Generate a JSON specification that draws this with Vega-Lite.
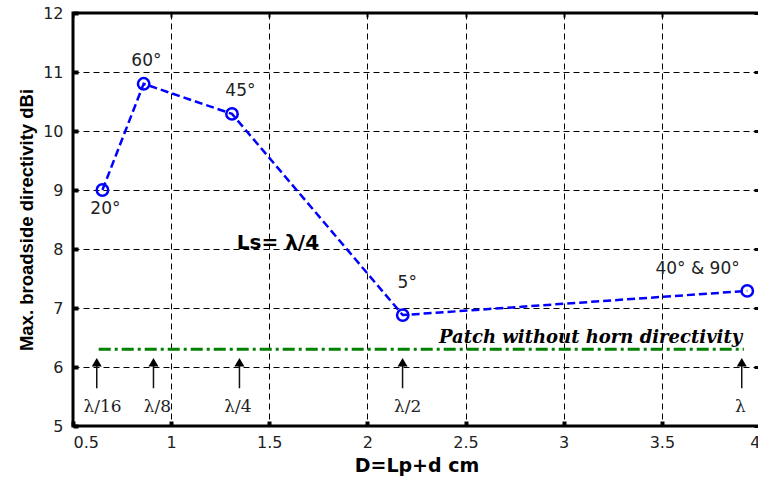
{
  "$schema": "https://vega.github.io/schema/vega-lite/v6.json",
  "autosize": "none",
  "padding": {"left": 73, "top": 13, "right": 0, "bottom": 52},
  "width": 687,
  "height": 413,
  "background": "white",
  "config": {
    "view": {"stroke": "black", "strokeWidth": 3},
    "axis": {"domain": false}
  },
  "resolve": {"axis": {"x": "independent", "y": "independent"}},
  "layer": [
    {
      "data": {"values": [
        {"D": 0.65, "dir": 9.0},
        {"D": 0.86, "dir": 10.8},
        {"D": 1.31, "dir": 10.29},
        {"D": 2.18, "dir": 6.88},
        {"D": 3.935, "dir": 7.29}
      ]},
      "mark": {"type": "line", "color": "#0000ff", "strokeWidth": 2.5, "strokeDash": [8, 4]},
      "encoding": {
        "x": {"field": "D", "type": "quantitative",
          "scale": {"domain": [0.5, 4], "nice": false, "zero": false},
          "axis": {"orient": "bottom", "values": [0.5, 1, 1.5, 2, 2.5, 3, 3.5, 4], "format": "~g",
            "title": "D=Lp+d cm", "titleFont": "DejaVu Sans", "titleFontWeight": "bold", "titleFontSize": 19, "titleColor": "black", "titlePadding": 6,
            "labelFont": "DejaVu Sans", "labelFontSize": 16, "labelColor": "#222", "labelPadding": 13,
            "ticks": true, "tickSize": -5, "tickWidth": 4, "tickColor": "black",
            "grid": true, "gridColor": "black", "gridDash": [6, 4], "gridWidth": 1, "gridOpacity": 1}},
        "y": {"field": "dir", "type": "quantitative",
          "scale": {"domain": [5, 12], "nice": false, "zero": false},
          "axis": {"orient": "left", "values": [5, 6, 7, 8, 9, 10, 11, 12],
            "title": "Max. broadside directivity dBi", "titleFont": "Liberation Sans", "titleFontWeight": "bold", "titleFontSize": 18.5, "titleColor": "black", "titlePadding": 6,
            "labelFont": "DejaVu Sans", "labelFontSize": 16, "labelColor": "#222", "labelPadding": 15,
            "ticks": true, "tickSize": -5, "tickWidth": 4, "tickColor": "black",
            "grid": true, "gridColor": "black", "gridDash": [6, 4], "gridWidth": 1, "gridOpacity": 1}}
      }
    },
    {
      "data": {"values": [{"x1": 0.631, "x2": 3.918, "y": 6.3}]},
      "mark": {"type": "rule", "color": "#008000", "strokeWidth": 3, "strokeDash": [12, 4, 3, 4]},
      "encoding": {
        "x": {"field": "x1", "type": "quantitative",
          "scale": {"domain": [0.5, 4], "nice": false, "zero": false},
          "axis": {"orient": "top", "values": [0.5, 1, 1.5, 2, 2.5, 3, 3.5, 4], "labels": false, "title": null, "grid": false,
            "ticks": true, "tickSize": -4, "tickWidth": 2, "tickColor": "black"}},
        "x2": {"field": "x2"},
        "y": {"field": "y", "type": "quantitative",
          "scale": {"domain": [5, 12], "nice": false, "zero": false},
          "axis": {"orient": "right", "values": [5, 6, 7, 8, 9, 10, 11, 12], "labels": false, "title": null, "grid": false,
            "ticks": true, "tickSize": -6, "tickWidth": 3, "tickColor": "black"}}
      }
    },
    {
      "data": {"values": [
        {"D": 0.65, "dir": 9.0},
        {"D": 0.86, "dir": 10.8},
        {"D": 1.31, "dir": 10.29},
        {"D": 2.18, "dir": 6.88},
        {"D": 3.935, "dir": 7.29}
      ]},
      "mark": {"type": "point", "shape": "circle", "filled": false, "color": "#0000ff", "size": 130, "strokeWidth": 2.5, "opacity": 1},
      "encoding": {
        "x": {"field": "D", "type": "quantitative", "axis": null},
        "y": {"field": "dir", "type": "quantitative", "axis": null}
      }
    },
    {
      "data": {"values": [
        {"D": 0.621, "lab": "λ/16"},
        {"D": 0.91, "lab": "λ/8"},
        {"D": 1.348, "lab": "λ/4"},
        {"D": 2.179, "lab": "λ/2"},
        {"D": 3.907, "lab": "λ"}
      ]},
      "layer": [
        {
          "mark": {"type": "rule", "color": "#111", "strokeWidth": 1.5},
          "encoding": {
            "x": {"field": "D", "type": "quantitative", "axis": null},
            "y": {"datum": 5.64, "type": "quantitative", "axis": null},
            "y2": {"datum": 6.02}
          }
        },
        {
          "mark": {"type": "point", "shape": "triangle-up", "filled": true, "color": "black", "size": 100, "opacity": 1},
          "encoding": {
            "x": {"field": "D", "type": "quantitative", "axis": null},
            "y": {"datum": 6.08, "type": "quantitative", "axis": null}
          }
        }
      ]
    },
    {
      "data": {"values": [
        {"D": 0.65, "lab": "λ/16"},
        {"D": 0.93, "lab": "λ/8"},
        {"D": 1.34, "lab": "λ/4"},
        {"D": 2.205, "lab": "λ/2"},
        {"D": 3.9, "lab": "λ"}
      ]},
      "mark": {"type": "text", "font": "DejaVu Serif", "fontSize": 17, "color": "#222", "baseline": "middle", "align": "center"},
      "encoding": {
        "x": {"field": "D", "type": "quantitative", "axis": null},
        "y": {"datum": 5.33, "type": "quantitative", "axis": null},
        "text": {"field": "lab"}
      }
    },
    {
      "data": {"values": [
        {"D": 0.665, "dir": 8.68, "lab": "20°"},
        {"D": 0.874, "dir": 11.19, "lab": "60°"},
        {"D": 1.353, "dir": 10.68, "lab": "45°"},
        {"D": 2.203, "dir": 7.43, "lab": "5°"},
        {"D": 3.682, "dir": 7.66, "lab": "40° & 90°"}
      ]},
      "mark": {"type": "text", "font": "DejaVu Sans", "fontSize": 17, "color": "#222", "baseline": "middle", "align": "center"},
      "encoding": {
        "x": {"field": "D", "type": "quantitative", "axis": null},
        "y": {"field": "dir", "type": "quantitative", "axis": null},
        "text": {"field": "lab"}
      }
    },
    {
      "data": {"values": [{"D": 1.544, "dir": 8.1, "lab": "Ls= λ/4"}]},
      "mark": {"type": "text", "font": "DejaVu Sans", "fontWeight": "bold", "fontSize": 20, "color": "black", "baseline": "middle", "align": "center"},
      "encoding": {
        "x": {"field": "D", "type": "quantitative", "axis": null},
        "y": {"field": "dir", "type": "quantitative", "axis": null},
        "text": {"field": "lab"}
      }
    },
    {
      "data": {"values": [{"D": 3.137, "dir": 6.49, "lab": "Patch without horn directivity"}]},
      "mark": {"type": "text", "font": "DejaVu Serif", "fontWeight": "bold", "fontStyle": "italic", "fontSize": 18, "color": "black", "baseline": "middle", "align": "center"},
      "encoding": {
        "x": {"field": "D", "type": "quantitative", "axis": null},
        "y": {"field": "dir", "type": "quantitative", "axis": null},
        "text": {"field": "lab"}
      }
    }
  ]
}
